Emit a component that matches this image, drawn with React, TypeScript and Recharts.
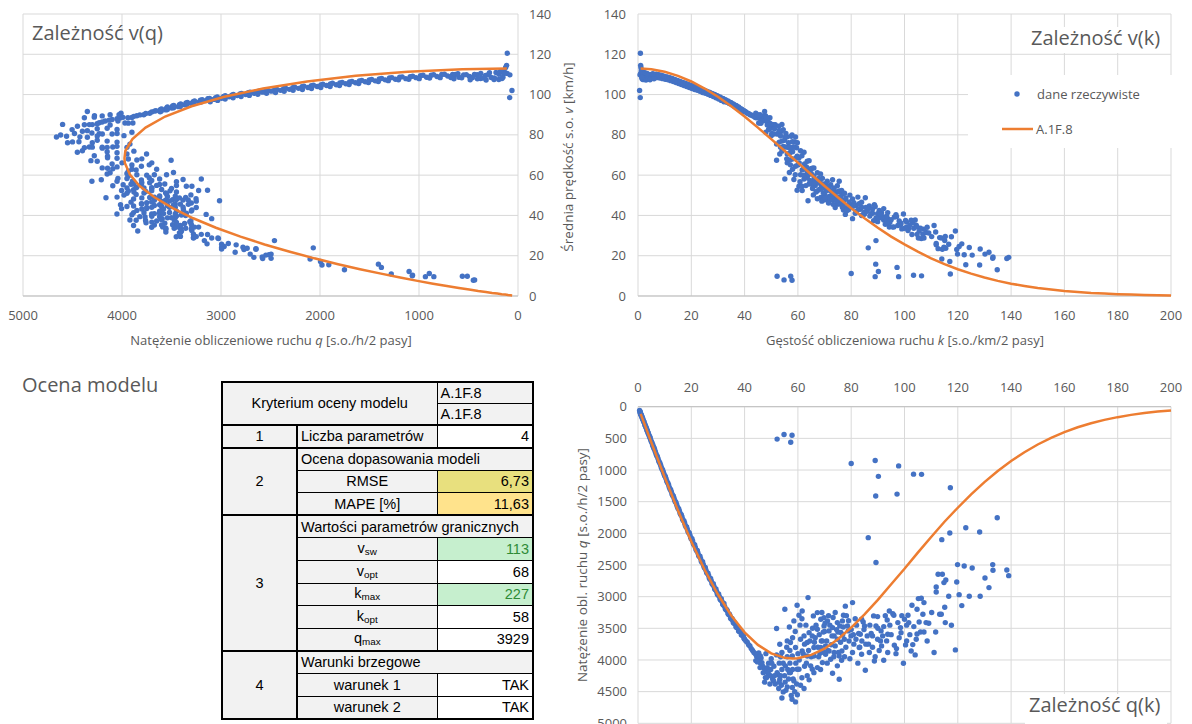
import { ScatterChart, Scatter, XAxis, YAxis, CartesianGrid } from "recharts"

// measured points, free-flow band (density k, speed v, flow q)
const freeK1 = [1.0,1.5,2.0,2.5,3.0,3.5,4.0,4.5,5.0,5.5, 6.0,6.5,7.0,7.5,8.0,8.5,9.0,9.5,10.0,10.5, 11.0,11.5,12.0,12.5,13.0,13.5,14.0,14.5,15.0,15.5, 16.0,16.5,17.0,17.5,18.0,18.5,19.0,19.5,20.0,20.5, 21.0,21.5,22.0,22.5,23.0,23.5,24.0,24.5,25.0,25.5, 26.0,26.5,27.0,27.5,28.0,28.5,29.0,29.5,30.0,30.5, 31.0,31.5,32.0,32.5,33.0,33.5,34.0,34.5,35.0,35.5, 36.0,36.5,37.0,37.5,38.0,38.5,39.0,39.5,40.0]
const freeV1 = [110.5,108,111,108.5,109.5,108,110,109,109.8,108.6, 110,109.2,110,109,109.6,108.6,109.4,108.4,108.9,107.9, 108.6,107.6,108.2,107.3,107.8,106.8,107.3,106.4,106.8,105.9, 106.3,105.4,105.8,104.9,105.3,104.5,104.8,104.0,104.4,103.5, 103.9,103.1,103.4,102.6,102.9,102.1,102.4,101.7,101.9,101.2, 101.4,100.6,100.9,100.0,100.3,99.5,99.7,98.9,99.1,98.2, 98.5,97.6,97.9,97.0,97.2,96.2,96.5,95.6,95.8,94.9, 95.0,94.0,94.3,93.3,93.4,92.4,92.6,91.5,91.8]
const freeQ1 = [110,162,222,271,328,378,440,490,549,597, 660,710,770,818,877,923,985,1030,1089,1133, 1195,1237,1298,1341,1401,1442,1502,1543,1602,1641, 1701,1739,1799,1836,1895,1933,1991,2028,2088,2122, 2182,2217,2275,2309,2367,2399,2458,2492,2548,2581, 2636,2666,2724,2750,2808,2836,2891,2918,2973,2995, 3054,3074,3133,3153,3208,3223,3281,3298,3353,3369, 3420,3431,3489,3499,3549,3557,3611,3614,3672]

const freeK2 = [1.25,2.25,3.25,4.25,5.25,6.25,7.25,8.25,9.25,10.25, 11.25,12.25,13.25,14.25,15.25,16.25,17.25,18.25,19.25,20.25, 21.25,22.25,23.25,24.25,25.25,26.25,27.25,28.25,29.25,30.25, 31.25,32.25,33.25,34.25,35.25,36.25,37.25,38.25,39.25]
const freeV2 = [112,107.5,108.2,108.4,108.3,108.5,108.4,108.2,107.9,107.6, 107.3,106.9,106.5,106.0,105.5,105.0,104.5,104.0,103.5,103.0, 102.5,102.1,101.6,101.0,100.6,100.1,99.6,99.0,98.4,97.8, 97.1,96.4,96.3,95.6,94.9,94.1,93.4,92.6,91.8]
const freeQ2 = [140,242,352,461,569,678,786,893,998,1103, 1207,1310,1411,1511,1609,1706,1803,1898,1992,2086, 2178,2272,2362,2449,2540,2628,2714,2797,2878,2958, 3034,3109,3202,3274,3345,3411,3479,3542,3603]

const freeK3 = [0.75,1.75,2.75,3.75,4.75,5.75,6.75,7.75,8.75,9.75, 10.75,11.75,12.75,13.75,14.75,15.75,16.75,17.75,18.75,19.75, 20.75,21.75,22.75,23.75,24.75,25.75,26.75,27.75,28.75,29.75, 30.75,31.75,32.75,33.75,34.75,35.75,36.75,37.75,38.75,39.75]
const freeV3 = [109.8,110.1,109.9,109.9,109.9,110.0,110.1,109.9,109.6,109.1, 108.8,108.4,108.0,107.5,107.0,106.5,106.0,105.6,105.1,104.6, 104.2,103.7,103.2,102.7,102.2,101.7,101.2,100.6,100.0,99.4, 98.8,98.1,97.4,96.8,96.1,95.3,94.6,93.8,92.9,92.0]
const freeQ3 = [82,193,302,412,522,633,743,852,959,1064, 1170,1274,1377,1478,1578,1677,1776,1874,1971,2066, 2162,2255,2348,2439,2529,2619,2707,2792,2875,2957, 3038,3115,3190,3267,3339,3407,3477,3541,3600,3657]

const startK = [0.6,0.85,0.9,1.0,1.1,1.3,1.6,1.8,2.2,2.6,3.0,3.4,3.8,4.5,5.5,6.0,1.4]
const startV = [102,98.5,120.5,114.5,113.5,110.5,111.5,107.5,108.3,110.8,107.2,110.5,107.8,107.3,110.3,107.8,108.6]
const startQ = [61,84,108,115,125,144,178,194,238,288,322,376,410,483,607,647,152]

// transition near capacity
const transK = [44.0,44.5,45.0,45.5,46.0,46.8,47.3,48.0,48.6,49.2, 42.0,42.5,43.0,43.5,40.5,41.0,41.5,44.2,45.3,46.2, 47.0,49.0,49.8,50.5,51.0,51.5,52.5,53.0,53.8,54.0, 55.0,55.5,56.5,57.0,58.0,58.8,59.5,60.5,61.5,62.5, 50.0,48.0,47.5,52.0,56.0,54.0,57.5,47.8,48.5,46.5, 45.9,50.9,49.7,53.2,52.2,56.0,54.5,59.1,57.9,58.5, 59.7,57.9,55.3,54.5,57.2,60.4,62.3]
const transV = [88.6,88.5,88.7,88.4,88.0,87.6,87.3,86.9,86.4,86.0, 90.0,89.9,89.5,89.2,91.4,90.7,90.6,90.7,85.9,85.9, 89.4,82.7,83.3,85.1,80.4,85.0,80.6,76.4,81.8,76.9, 77.3,80.7,76.1,71.1,71.6,76.5,73.6,66.1,69.6,65.6, 79.6,81.3,91.6,75.4,70.5,85.2,79.3,89.5,84.9,86.9, 85.8,85.1,85.5,80.9,80.4,79.0,82.6,78.9,76.6,74.0, 69.4,68.0,74.0,74.3,73.4,68.6,71.4]
const transQ = [3900,3940,3990,4020,4050,4100,4130,4170,4200,4230, 3780,3820,3850,3880,3700,3720,3760,4010,3890,3970, 4200,4050,4150,4300,4100,4380,4230,4050,4400,4150, 4250,4480,4300,4050,4150,4500,4380,4000,4280,4100, 3980,3900,4350,3920,3950,4600,4560,4278,4120,4041, 3936,4330,4251,4304,4199,4425,4504,4662,4435,4330, 4146,3936,4093,4051,4199,4146,4451]

// congested traffic
const congK = [112.6,114.2,115.5,114.8,111.9,111.9,119.9,122.4,125.4,133.1, 133.2,138.4,139.1,130.2,131.7,119.6,120.5,124.3,128.4,116.6, 121.5,115.1,113.2,113.8,115.3,117.6,111.7,119.1,111.1,
  106.3,107.3,105.2,102.8,104.7,101.3,100.0,101.6,106.9,108.1, 109.1,103.5,107.3,106.0,104.4,104.7,103.1,100.8,100.4,102.5, 104.0,99.6,96.2,96.0,94.3,95.6,93.5,97.5,98.5,98.7, 93.7,92.2,91.2,89.3,88.4,89.9,88.0,89.9,91.8,93.3, 91.4,93.7,92.2,88.7,85.3,86.8,83.9,83.0,80.5,81.8, 83.4,85.0,83.9,80.5,77.1,75.7,76.1,74.8,74.0,76.5, 75.5,74.8,76.4,73.0,75.5,72.3,70.4,68.6,68.3,69.2, 67.3,66.0,64.8,65.4]
const congV = [23.5,23.2,23.7,24.2,25.4,26.1,20.8,20.5,20.3,18.7, 19.4,18.6,19.2,20.8,21.7,23.1,24.6,24.1,23.3,25.7, 25.9,27.5,29.0,28.8,29.6,29.4,31.8,32.3,35.0,
  28.5,28.8,28.8,30.5,30.6,32.5,33.6,33.6,30.7,31.5, 31.3,33.6,33.2,33.6,35.2,34.3,36.4,36.7,37.5,37.6, 37.7,40.7,39.2,34.3,34.2,34.2,36.0,35.0,35.4,36.1, 38.4,37.7,38.8,38.8,37.4,36.9,41.1,40.9,39.4,39.6, 41.3,41.4,43.4,45.3,48.8,44.7,46.6,45.8,48.2,44.9, 43.1,40.7,40.0,38.4,42.7,45.7,46.9,49.1,51.1,50.4, 52.1,54.7,52.4,57.7,57.0,55.2,55.5,55.5,57.0,58.4, 61.2,59.6,63.2,63.4]
const congQ = [2647,2647,2736,2778,2847,2926,2494,2515,2547,2494, 2584,2579,2668,2705,2857,2768,2968,2994,2994,2994, 3141,3168,3278,3278,3410,3452,3557,3841,3883,
  3026,3094,3031,3136,3199,3294,3357,3410,3278,3410, 3420,3473,3557,3557,3673,3589,3757,3699,3762,3857, 3920,4051,3767,3294,3226,3268,3368,3410,3489,3568, 3594,3473,3541,3462,3304,3315,3620,3673,3620,3699, 3778,3883,4004,4015,4162,3883,3909,3804,3883,3673, 3594,3462,3357,3094,3294,3462,3567,3673,3778,3857, 3936,4093,4004,4209,4304,3988,3909,3804,3894,4041, 4120,3936,4093,4146]

const denseK = [63.8,61.6,59.7,60.4,58.5,55.1,52.0,56.0,57.2,53.2, 59.1,61.0,62.3,64.2,65.4,67.3,68.6,67.3,65.8,69.8, 71.1,69.8,71.7,73.6,73.0,74.8,76.7,78.6,78.9,79.9, 77.4,69.2,70.4,63.5,66.0,63.5,61.6,71.7,73.6,69.8,
  63.0,64.5,66.5,67.5,68.0,70.0,70.8,72.0,72.5,73.5, 75.0,76.0,77.0,78.0,79.0,80.0,81.0,82.0,82.8,84.0, 84.8,86.0,87.0,88.0,65.0,66.8,69.0,71.5,74.0,77.8, 62.0,59.0,57.0,60.0,63.5,66.0,68.5,71.0,79.5,82.5, 85.5,90.5,94.5,98.0,96.8,100.8,56.8,54.0,53.5,64.2]
const denseV = [47.3,52.4,52.5,54.5,57.8,58.1,67.4,66.1,65.1,70.5, 64.4,60.2,58.1,55.6,55.4,52.2,48.9,48.3,50.2,47.7, 47.6,49.6,49.4,49.2,47.8,45.6,44.1,44.0,44.9,45.3, 47.5,53.5,53.7,58.7,57.6,62.0,62.6,53.8,52.8,55.6,
  54.8,57.4,54.9,56.3,52.9,50.7,52.3,47.9,51.9,53.7, 47.5,48.9,45.2,48.7,42.8,44.0,46.3,42.1,43.2,44.0, 41.5,42.1,39.7,43.2,60.8,51.6,47.1,46.2,43.9,40.5, 62.9,60.2,67.5,65.0,66.9,63.6,60.6,57.0,50.1,49.1, 43.9,42.5,36.5,37.2,40.3,34.2,61.3,71.9,73.8,67.2]
const denseQ = [3015,3226,3136,3294,3383,3199,3504,3699,3725,3752, 3804,3673,3620,3568,3620,3515,3357,3252,3304,3331, 3383,3462,3541,3620,3489,3410,3383,3462,3541,3620, 3673,3699,3778,3725,3804,3936,3857,3857,3883,3883,
  3450,3700,3650,3800,3600,3550,3700,3450,3760,3950, 3560,3720,3480,3800,3380,3520,3750,3450,3580,3700, 3520,3620,3450,3800,3950,3450,3250,3300,3250,3150, 3900,3550,3850,3900,4250,4200,4150,4050,3980,4050, 3750,3850,3450,3650,3900,3450,3480,3880,3950,4314]

const coreK = [61.5,62.5,64.0,65.5,66.2,67.8,68.8,69.5,70.2,71.2, 72.8,73.2,74.5,75.2,76.8,77.5,78.2,79.2,80.8,81.5, 83.2,84.5,86.5,87.5,89.0,90.0,91.0,92.8,95.0,97.0, 99.0,102.0,105.5,108.5,110.2,58.0,60.8,63.2,56.2,55.8, 58.2,51.2,52.8,49.5,50.2,53.5,55.2,56.8,48.2,61.0, 59.2,45.8,44.8,53.0,57.8,59.8]
const coreV = [54.5,60.0,60.2,53.4,56.2,58.3,53.8,51.2,48.7,54.1, 49.7,45.5,47.2,51.6,46.9,51.0,42.2,46.7,44.6,41.1, 45.7,40.2,43.4,40.9,44.4,38.9,40.7,35.6,37.9,39.4, 33.3,35.3,32.2,34.1,29.5,62.9,56.7,64.1,73.8,68.1, 73.9,83.0,84.3,88.5,80.7,79.4,78.8,73.9,88.8,72.1, 68.4,90.0,90.0,82.1,79.9,76.1]
const coreQ = [3350,3750,3850,3500,3720,3950,3700,3560,3420,3850, 3620,3330,3520,3880,3600,3950,3300,3700,3600,3350, 3800,3400,3750,3580,3950,3500,3700,3300,3600,3820, 3300,3600,3400,3700,3250,3650,3450,4050,4150,3800, 4300,4250,4450,4380,4050,4250,4350,4200,4280,4400, 4050,4120,4030,4350,4620,4550]

// isolated outliers
const outK = [52.2,54.8,57.3,57.8,80.0,89.0,89.2,90.2,97.2,97.8,103.4,106.4,117.2,86.4,89.3,134.8,123.0,128.2,117.0,114.0]
const outV = [9.8,8.0,9.8,7.8,11.2,9.6,15.8,12.2,14.2,9.6,10.3,10.0,10.9,23.9,27.5,13.0,15.5,15.4,17.1,18.4]
const outQ = [512,438,562,451,896,850,1410,1100,1380,935,1065,1068,1280,2068,2460,1753,1911,1980,1995,2100]

// model A.1F.8 curve
const modelK = [1,5,10,15,20,25,30,35,40,45,50,55,58,60,65,70,75,80,85,90,95,100,105,110,115,120,125,130,135,140,145,150,155,160,165,170,175,180,185,190,195,200]
const modelV = [113,112.6,111.3,109.3,106.5,103,98.9,94.2,89.1,83.6,77.9,72.1,68.5,66.2,60.3,54.6,49,43.6,38.6,33.9,29.5,25.6,22,18.7,15.8,13.3,11.1,9.2,7.5,6.1,5,4,3.2,2.5,2,1.5,1.2,0.9,0.7,0.5,0.4,0.3]
const modelQ = [113,563,1113,1639,2130,2575,2966,3297,3564,3762,3895,3966,3975,3972,3920,3822,3672,3488,3281,3051,2803,2560,2305,2057,1817,1596,1384,1191,1015,858,719,597,493,402,325,262,208,165,129,100,77,59]

const qTicks = [0, 1000, 2000, 3000, 4000, 5000]
const qTicks500 = [0, 500, 1000, 1500, 2000, 2500, 3000, 3500, 4000, 4500, 5000]
const vTicks = [0, 20, 40, 60, 80, 100, 120, 140]
const kTicks = [0, 20, 40, 60, 80, 100, 120, 140, 160, 180, 200]

const groups = [
  [freeK1, freeV1, freeQ1], [freeK2, freeV2, freeQ2], [freeK3, freeV3, freeQ3], [startK, startV, startQ],
  [transK, transV, transQ], [congK, congV, congQ], [denseK, denseV, denseQ], [coreK, coreV, coreQ],
  [outK, outV, outQ],
]
const points = groups.flatMap(([ks, vs, qs]) => ks.map((k, i) => ({ k, v: vs[i], q: qs[i] })))
const model = modelK.map((k, i) => ({ k, v: modelV[i], q: modelQ[i] }))

const BLUE = "#4472C4"
const ORANGE = "#ED7D31"
const INK = "#595959"
const GRID = "#D9D9D9"
const FONT = "'Open Sans', sans-serif"
const TFONT = "'Liberation Sans', Arial, sans-serif"

const tick = { fill: INK, fontSize: 13, fontFamily: FONT }
const Dot = (p: any) => <circle cx={p.cx} cy={p.cy} r={2.7} fill={BLUE} />
const NoDot = () => <g />
const orangeLine = { stroke: ORANGE, strokeWidth: 2.5 }

function Txt({ x, y, size = 13, center = false, children }: any) {
  return (
    <div
      style={{
        position: "absolute", left: x, top: y, fontSize: size, lineHeight: 1, color: INK,
        fontFamily: FONT, whiteSpace: "nowrap", transform: center ? "translateX(-50%)" : undefined,
      }}
    >
      {children}
    </div>
  )
}

function VTxt({ x, y, children }: any) {
  return (
    <div
      style={{
        position: "absolute", left: x, top: y, fontSize: 13.5, lineHeight: 1, color: INK, fontFamily: FONT,
        whiteSpace: "nowrap", transform: "translate(-50%, -50%) rotate(-90deg)",
      }}
    >
      {children}
    </div>
  )
}

const gray = "#F2F2F2"
const thin = "1px solid #000"
const thick = "2px solid #000"
const cell: any = { border: thin, padding: "0 3px", fontFamily: TFONT, fontSize: 14.5, lineHeight: 1, whiteSpace: "nowrap", overflow: "hidden", color: "#000" }
const lab = { ...cell, background: gray }
const labC = { ...lab, textAlign: "center" }
const val = { ...cell, background: "#fff", textAlign: "right" }
const num = { ...lab, textAlign: "center", borderRight: thick }
const sub = { fontSize: "0.68em", verticalAlign: "-0.25em" }

function ModelTable() {
  const rh = 22.6
  return (
    <table
      style={{
        position: "absolute", left: 221, top: 381, width: 311, borderCollapse: "collapse",
        tableLayout: "fixed", border: thick,
      }}
    >
      <colgroup>
        <col style={{ width: 75 }} />
        <col style={{ width: 140 }} />
        <col style={{ width: 96 }} />
      </colgroup>
      <tbody>
        <tr style={{ height: 21 }}>
          <td rowSpan={2} colSpan={2} style={{ ...labC, borderBottom: thick }}>Kryterium oceny modelu</td>
          <td style={lab}>A.1F.8</td>
        </tr>
        <tr style={{ height: 22 }}>
          <td style={{ ...lab, borderBottom: thick }}>A.1F.8</td>
        </tr>
        <tr style={{ height: rh }}>
          <td style={{ ...num, borderBottom: thick }}>1</td>
          <td style={{ ...lab, borderBottom: thick }}>Liczba parametrów</td>
          <td style={{ ...val, borderBottom: thick }}>4</td>
        </tr>
        <tr style={{ height: rh }}>
          <td rowSpan={3} style={{ ...num, borderBottom: thick }}>2</td>
          <td colSpan={2} style={lab}>Ocena dopasowania modeli</td>
        </tr>
        <tr style={{ height: rh }}>
          <td style={labC}>RMSE</td>
          <td style={{ ...val, background: "#E8E07E" }}>6,73</td>
        </tr>
        <tr style={{ height: rh }}>
          <td style={{ ...labC, borderBottom: thick }}>MAPE [%]</td>
          <td style={{ ...val, background: "#FFE38C", borderBottom: thick }}>11,63</td>
        </tr>
        <tr style={{ height: rh }}>
          <td rowSpan={6} style={{ ...num, borderBottom: thick }}>3</td>
          <td colSpan={2} style={lab}>Wartości parametrów granicznych</td>
        </tr>
        <tr style={{ height: rh }}>
          <td style={labC}>v<span style={sub}>sw</span></td>
          <td style={{ ...val, background: "#C6EFCE", color: "#2E8B36" }}>113</td>
        </tr>
        <tr style={{ height: rh }}>
          <td style={labC}>v<span style={sub}>opt</span></td>
          <td style={val}>68</td>
        </tr>
        <tr style={{ height: rh }}>
          <td style={labC}>k<span style={sub}>max</span></td>
          <td style={{ ...val, background: "#C6EFCE", color: "#2E8B36" }}>227</td>
        </tr>
        <tr style={{ height: rh }}>
          <td style={labC}>k<span style={sub}>opt</span></td>
          <td style={val}>58</td>
        </tr>
        <tr style={{ height: rh }}>
          <td style={{ ...labC, borderBottom: thick }}>q<span style={sub}>max</span></td>
          <td style={{ ...val, borderBottom: thick }}>3929</td>
        </tr>
        <tr style={{ height: rh }}>
          <td rowSpan={3} style={num}>4</td>
          <td colSpan={2} style={lab}>Warunki brzegowe</td>
        </tr>
        <tr style={{ height: rh }}>
          <td style={labC}>warunek 1</td>
          <td style={val}>TAK</td>
        </tr>
        <tr style={{ height: rh }}>
          <td style={labC}>warunek 2</td>
          <td style={val}>TAK</td>
        </tr>
      </tbody>
    </table>
  )
}

export default function App() {
  return (
    <div style={{ position: "fixed", left: 0, top: 0, width: 1192, height: 724, overflow: "hidden", background: "#fff" }}>
      {/* v(q) */}
      <div style={{ position: "absolute", left: 0, top: 0 }}>
        <ScatterChart width={600} height={360} margin={{ top: 14, right: 42, bottom: 34, left: 23 }}>
          <CartesianGrid stroke={GRID} />
          <XAxis type="number" dataKey="q" domain={[0, 5000]} ticks={qTicks} reversed interval={0}
            tickLine={false} tickSize={0} tickMargin={15} axisLine={{ stroke: "#BFBFBF" }} height={30} tick={tick} />
          <YAxis type="number" dataKey="v" orientation="right" domain={[0, 140]} ticks={vTicks} interval={0}
            tickLine={false} tickSize={0} tickMargin={11} axisLine={false} width={40} tick={tick} />
          <Scatter data={points} shape={Dot} isAnimationActive={false} />
          <Scatter data={model} shape={NoDot} line={orangeLine} isAnimationActive={false} />
        </ScatterChart>
      </div>

      {/* v(k) */}
      <div style={{ position: "absolute", left: 590, top: 0 }}>
        <ScatterChart width={602} height={360} margin={{ top: 14, right: 21, bottom: 34, left: 8 }}>
          <CartesianGrid stroke={GRID} />
          <XAxis type="number" dataKey="k" domain={[0, 200]} ticks={kTicks} interval={0}
            tickLine={false} tickSize={0} tickMargin={15} axisLine={{ stroke: "#BFBFBF" }} height={30} tick={tick} />
          <YAxis type="number" dataKey="v" domain={[0, 140]} ticks={vTicks} interval={0}
            tickLine={false} tickSize={0} tickMargin={12} axisLine={false} width={40} tick={tick} />
          <Scatter data={points} shape={Dot} isAnimationActive={false} />
          <Scatter data={model} shape={NoDot} line={orangeLine} isAnimationActive={false} />
        </ScatterChart>
      </div>

      {/* q(k) */}
      <div style={{ position: "absolute", left: 570, top: 370 }}>
        <ScatterChart width={622} height={400} margin={{ top: 6.7, right: 21, bottom: 46.7, left: 18 }}>
          <CartesianGrid stroke={GRID} />
          <XAxis type="number" dataKey="k" orientation="top" domain={[0, 200]} ticks={kTicks} interval={0}
            tickLine={false} tickSize={0} tickMargin={15} axisLine={{ stroke: "#BFBFBF" }} height={30} tick={tick} />
          <YAxis type="number" dataKey="q" reversed domain={[0, 5000]} ticks={qTicks500} interval={0}
            tickLine={false} tickSize={0} tickMargin={11} axisLine={false} width={50} tick={tick} />
          <Scatter data={points} shape={Dot} isAnimationActive={false} />
          <Scatter data={model} shape={NoDot} line={orangeLine} isAnimationActive={false} />
        </ScatterChart>
      </div>

      {/* boxes over grid */}
      <div style={{ position: "absolute", left: 1025, top: 27, width: 144, height: 26, background: "#fff" }} />
      <div style={{ position: "absolute", left: 968, top: 75, width: 210, height: 73, background: "#fff" }} />
      <div style={{ position: "absolute", left: 1025, top: 694, width: 142, height: 40, background: "#fff" }} />

      {/* titles */}
      <Txt x={32} y={23} size={20}>Zależność v(q)</Txt>
      <Txt x={1031} y={28} size={20}>Zależność v(k)</Txt>
      <Txt x={1029} y={694.5} size={20}>Zależność q(k)</Txt>
      <Txt x={22} y={374.5} size={20}>Ocena modelu</Txt>

      {/* axis titles */}
      <Txt x={271} y={333.5} center>Natężenie obliczeniowe ruchu <i>q</i> [s.o./h/2 pasy]</Txt>
      <Txt x={905} y={333.5} center>Gęstość obliczeniowa ruchu <i>k</i> [s.o./km/2 pasy]</Txt>
      <VTxt x={569} y={157}>Średnia prędkość s.o. <i>v</i> [km/h]</VTxt>
      <VTxt x={583} y={565}>Natężenie obl. ruchu <i>q</i> [s.o./h/2 pasy]</VTxt>

      {/* legend */}
      <svg style={{ position: "absolute", left: 990, top: 80 }} width={50} height={60}>
        <circle cx={27} cy={14} r={2.7} fill={BLUE} />
        <line x1={12} y1={49} x2={43} y2={49} stroke={ORANGE} strokeWidth={2.5} />
      </svg>
      <Txt x={1037} y={87.5}>dane rzeczywiste</Txt>
      <Txt x={1036} y={122.8}>A.1F.8</Txt>

      <ModelTable />
    </div>
  )
}
